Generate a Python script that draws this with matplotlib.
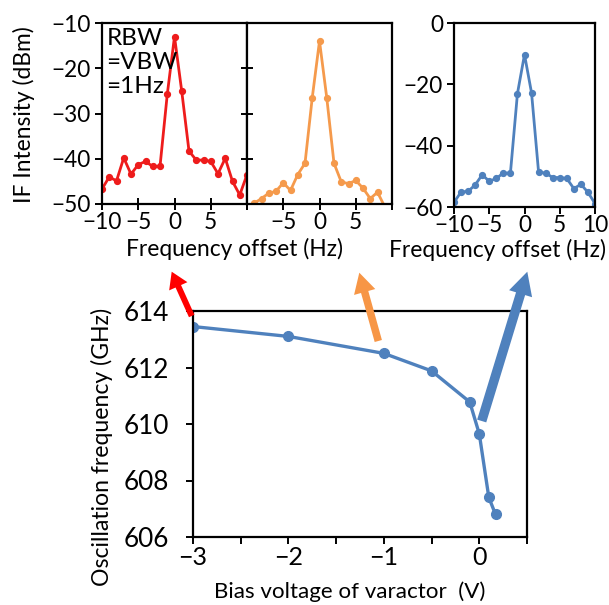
import matplotlib
matplotlib.use('Agg')
import matplotlib.pyplot as plt
from matplotlib.patches import FancyArrow

plt.rcParams['font.family'] = ['Lato', 'DejaVu Sans']

W, H = 609, 605

# ---- data ----
offset_hz = list(range(-10, 11))
red_dbm = [-46.7, -44.0, -44.9, -39.8, -43.4, -41.3, -40.6, -41.7, -41.7, -25.8, -13.0,
           -25.1, -38.3, -40.3, -40.3, -40.6, -43.3, -39.9, -45.0, -48.0, -43.5]
orange_dbm = [-51.5, -49.8, -48.8, -47.6, -47.2, -45.3, -47.0, -43.5, -41.0, -26.5, -14.0,
              -26.5, -41.0, -45.1, -45.5, -44.8, -46.5, -48.8, -47.4, -50.6, -52.0]
blue_dbm = [-58.5, -55.1, -54.9, -52.8, -49.5, -51.6, -50.7, -48.9, -49.0, -23.0, -10.3,
            -22.8, -48.7, -48.9, -50.4, -50.4, -50.7, -54.0, -52.6, -55.2, -58.9]
bias_v = [-3.0, -2.0, -1.0, -0.5, -0.1, 0.0, 0.1, 0.17]
osc_ghz = [613.45, 613.1, 612.5, 611.88, 610.78, 609.65, 607.4, 606.8]

red_ticks = [-10, -5, 0, 5, 10]
red_ticklabels = ['\u221210', '\u22125', '0', '5', '']
orange_ticklabels = ['', '\u22125', '0', '5', '']
blue_ticklabels = ['\u221210', '\u22125', '0', '5', '10']
top_yticks = [-50, -40, -30, -20, -10]
top_yticklabels = ['\u221250', '\u221240', '\u221230', '\u221220', '\u221210']
blue_yticks = [-60, -40, -20, 0]
blue_yticklabels = ['\u221260', '\u221240', '\u221220', '0']
bias_ticks = [-3, -2.5, -2, -1.5, -1, -0.5, 0, 0.5]
bias_ticklabels = ['\u22123', '', '\u22122', '', '\u22121', '', '0', '']
ghz_ticks = [606, 608, 610, 612, 614]

RED = '#EE1C1C'
ORANGE = '#F59A4C'
BLUE = '#4F81BD'

fig = plt.figure(figsize=(W / 100, H / 100), dpi=100)


def rect(l, t, r, b):
    return [l / W, 1 - b / H, (r - l) / W, (b - t) / H]


TICKFS = 16.3
LABFS = 16.4


def style(ax):
    for s in ax.spines.values():
        s.set_linewidth(1.6)
        s.set_color('black')
    ax.tick_params(width=1.4, labelsize=TICKFS, colors='black')


# ---- top-left (red) ----
ax1 = fig.add_axes(rect(102, 23, 247, 204))
ax1.plot(offset_hz, red_dbm, '-o', color=RED, lw=2.0, ms=4.2)
ax1.set_xlim(-10, 10)
ax1.set_ylim(-50, -10)
ax1.set_xticks(red_ticks)
ax1.set_xticklabels(red_ticklabels)
ax1.set_yticks(top_yticks)
ax1.set_yticklabels(top_yticklabels)
style(ax1)
ax1.tick_params(axis='x', direction='inout', length=8, pad=2)
ax1.tick_params(axis='y', direction='out', length=5, pad=3)
ax1.text(0.03, 0.975, 'RBW\n=VBW\n=1Hz', transform=ax1.transAxes, ha='left', va='top',
         fontsize=17.5, linespacing=1.2)

# ---- top-middle (orange) ----
ax2 = fig.add_axes(rect(247, 23, 392, 204))
ax2.plot(offset_hz, orange_dbm, '-o', color=ORANGE, lw=2.0, ms=4.2)
ax2.set_xlim(-10, 10)
ax2.set_ylim(-50, -10)
ax2.set_xticks(red_ticks)
ax2.set_xticklabels(orange_ticklabels)
ax2.set_yticks(top_yticks)
ax2.set_yticklabels([])
style(ax2)
ax2.tick_params(axis='x', direction='inout', length=8, pad=2)
ax2.tick_params(axis='y', direction='inout', length=8)
ax2.set_xlabel('Frequency offset (Hz)', fontsize=LABFS)
ax2.xaxis.set_label_coords(-0.083, -0.19)
ax2.xaxis.label.set_va('top')

# ---- top-right (blue) ----
ax3 = fig.add_axes(rect(454, 23, 595, 207))
ax3.plot(offset_hz, blue_dbm, '-o', color=BLUE, lw=2.0, ms=4.2)
ax3.set_xlim(-10, 10)
ax3.set_ylim(-60, 0)
ax3.set_xticks(red_ticks)
ax3.set_xticklabels(blue_ticklabels)
ax3.set_yticks(blue_yticks)
ax3.set_yticklabels(blue_yticklabels)
style(ax3)
ax3.tick_params(axis='x', direction='out', length=5, pad=1)
ax3.tick_params(axis='y', direction='out', length=5, pad=3)
ax3.set_xlabel('Frequency offset (Hz)', fontsize=LABFS)
ax3.xaxis.set_label_coords(0.305, -0.175)
ax3.xaxis.label.set_va('top')

fig.text(24 / W, 1 - 115 / H, 'IF Intensity (dBm)', rotation=90, ha='center', va='center',
         fontsize=LABFS)

# ---- bottom ----
ax4 = fig.add_axes(rect(193, 311, 527, 537))
ax4.plot(bias_v, osc_ghz, '-o', color=BLUE, lw=2.4, ms=7)
ax4.set_xlim(-3, 0.5)
ax4.set_ylim(606, 614)
ax4.set_xticks(bias_ticks)
ax4.set_xticklabels(bias_ticklabels)
ax4.set_yticks(ghz_ticks)
style(ax4)
ax4.tick_params(axis='x', direction='out', length=5, pad=1.5, labelsize=18)
ax4.tick_params(axis='y', direction='out', length=5, pad=12, labelsize=18.8)
ax4.set_xlabel('Bias voltage of varactor  (V)', fontsize=16.1)
ax4.xaxis.set_label_coords((350 - 193) / 334, -0.198)
ax4.xaxis.label.set_va('top')

fig.text(102 / W, 1 - 447 / H, 'Oscillation frequency (GHz)', rotation=90, ha='center',
         va='center', fontsize=16.6)

# ---- arrows (figure pixel coordinates -> inches) ----
def arrow(x0, y0, x1, y1, w, hw, hl, color):
    a = FancyArrow(x0 / 100, (H - y0) / 100, (x1 - x0) / 100, -(y1 - y0) / 100,
                   width=w / 100, head_width=hw / 100, head_length=hl / 100,
                   length_includes_head=True, color=color, lw=0,
                   transform=fig.dpi_scale_trans, zorder=5)
    fig.add_artist(a)


arrow(191.7, 316, 171.7, 271.7, 6, 20, 16, '#FF0000')
arrow(378.3, 341, 359.3, 272.7, 7.5, 22, 20, '#F79646')
arrow(481.7, 421, 527.3, 271.7, 9.5, 24, 23, BLUE)

fig.savefig('out.png', dpi=100)
